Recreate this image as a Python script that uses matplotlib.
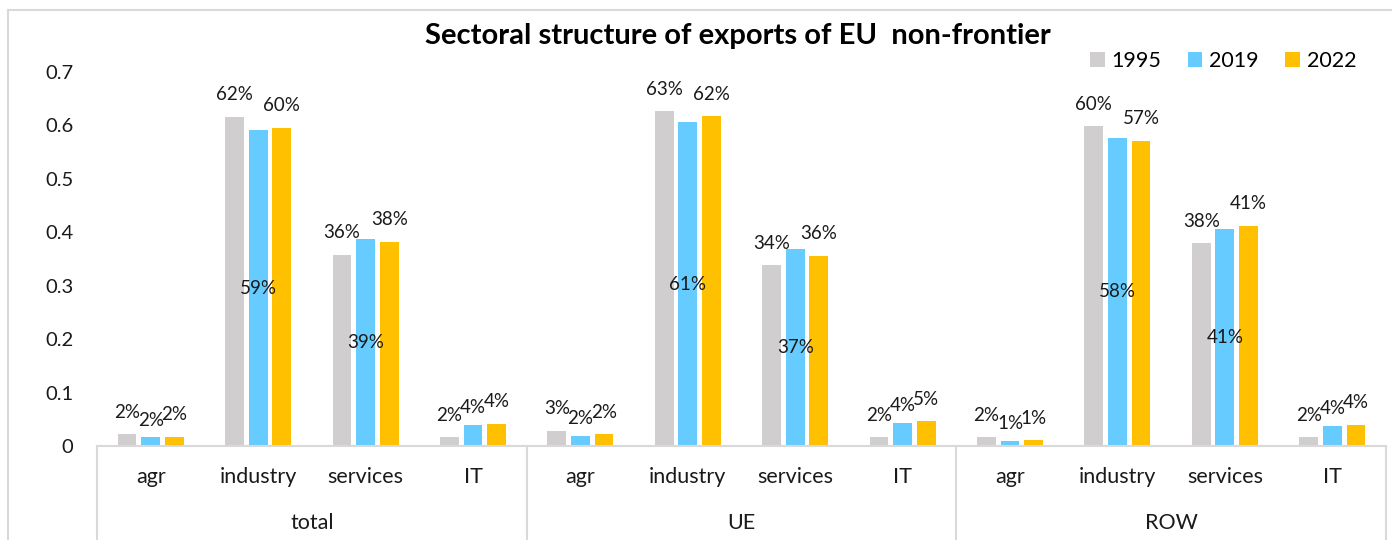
import numpy as np
import matplotlib.pyplot as plt

plt.rcParams['font.family'] = ['Lato', 'DejaVu Sans']

regions = ['total', 'UE', 'ROW']
sectors = ['agr', 'industry', 'services', 'IT']
years = ['1995', '2019', '2022']
colors = ['#D0CECE', '#66CCFF', '#FFC000']

# export shares, ordered region by region, sector by sector
share_1995 = [0.022, 0.616, 0.358, 0.016,
              0.029, 0.627, 0.338, 0.016,
              0.016, 0.599, 0.380, 0.016]
share_2019 = [0.016, 0.591, 0.388, 0.040,
              0.019, 0.606, 0.369, 0.043,
              0.009, 0.577, 0.407, 0.037]
share_2022 = [0.017, 0.596, 0.382, 0.042,
              0.022, 0.617, 0.356, 0.046,
              0.011, 0.571, 0.412, 0.040]
shares = [share_1995, share_2019, share_2022]

W, H = 1392, 540
fig = plt.figure(figsize=(W / 100, H / 100), dpi=100)

def px(x0, y0, x1, y1):
    # pixel box (top-left origin) -> figure fraction rect
    return [x0 / W, 1 - y1 / H, (x1 - x0) / W, (y1 - y0) / H]

ax = fig.add_axes(px(97, 72, 1386, 446))

n = len(regions) * len(sectors)
x = np.arange(n)
offsets = [-0.22, 0.0, 0.22]
bar_w = 0.175
grid_col = '#D9D9D9'
txt_col = '#1A1A1A'

for k, (yr, vals, col) in enumerate(zip(years, shares, colors)):
    bars = ax.bar(x + offsets[k], vals, bar_w, color=col, label=yr, zorder=2)
    for b, v in zip(bars, vals):
        lab = f'{int(round(v * 100))}%'
        cx = b.get_x() + b.get_width() / 2
        if k == 1 and v > 0.2:
            ax.text(cx, v / 2, lab, ha='center', va='center', fontsize=13.5, color=txt_col)
        else:
            off = 12.5 if k == 1 else 15.8
            ax.annotate(lab, (cx, v), xytext=(0, off), textcoords='offset points',
                        ha='center', va='center', fontsize=13.5, color=txt_col)

ax.set_xlim(-0.5, n - 0.5)
ax.set_ylim(0, 0.7)
ax.set_yticks(np.arange(0, 0.71, 0.1))
ax.set_yticklabels(['0'] + [f'{t:.1f}' for t in np.arange(0.1, 0.71, 0.1)])
ax.tick_params(axis='y', length=0, pad=17, labelsize=14.5, labelcolor=txt_col)
ax.set_xticks([])
for s in ['top', 'right', 'left']:
    ax.spines[s].set_visible(False)
ax.spines['bottom'].set_color(grid_col)
ax.spines['bottom'].set_linewidth(1.5)

# two-level category axis
tr = ax.get_xaxis_transform()
for i in range(n):
    ax.text(i, -0.083, sectors[i % len(sectors)], transform=tr, ha='center', va='center',
            fontsize=15.5, color=txt_col)
for g, reg in enumerate(regions):
    mid = g * len(sectors) + (len(sectors) - 1) / 2
    ax.text(mid, -0.206, reg, transform=tr, ha='center', va='center', fontsize=15.5, color=txt_col)
for g in range(len(regions) + 1):
    xb = g * len(sectors) - 0.5
    ax.plot([xb, xb], [0, -0.3], transform=tr, color=grid_col, lw=1.5, clip_on=False)

ax.legend(loc='upper right', bbox_to_anchor=(1356 / W, 1 - 51 / H), bbox_transform=fig.transFigure,
          ncol=3, frameon=False, fontsize=15.5, handlelength=0.68, handleheight=0.68,
          handletextpad=0.3, columnspacing=1.25, borderpad=0, borderaxespad=0)

fig.text(738 / W, 1 - 36 / H, 'Sectoral structure of exports of EU  non-frontier',
         ha='center', va='center', fontsize=21, fontweight='bold', color='black')

# outer chart frame
fig.add_artist(plt.Line2D([8 / W, 8 / W], [0, 1 - 10 / H], color=grid_col, lw=1.5))
fig.add_artist(plt.Line2D([8 / W, 1], [1 - 10 / H, 1 - 10 / H], color=grid_col, lw=1.5))

fig.savefig('out.png', dpi=100)
